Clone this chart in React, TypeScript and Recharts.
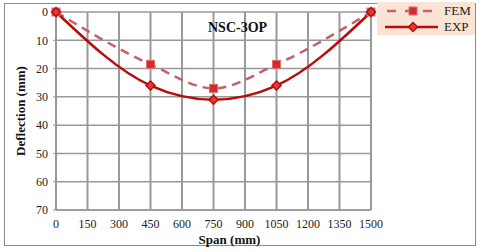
import { LineChart, Line, XAxis, YAxis, CartesianGrid, ReferenceLine } from 'recharts';

// span positions (mm)
const spans = [0, 450, 750, 1050, 1500];
// deflections (mm)
const femValues = [0, 18.5, 27, 18.5, 0];
const expValues = [0, 26, 31, 26, 0];

const xTicks = [0, 150, 300, 450, 600, 750, 900, 1050, 1200, 1350, 1500];
const yTicks = [0, 10, 20, 30, 40, 50, 60, 70];

const data = spans.map((s, i) => ({ span: s, fem: femValues[i], exp: expValues[i] }));

const FEM_COLOR = '#c4606a';
const FEM_MARK = '#d42a2a';
const EXP_COLOR = '#b80c0c';
const GRID = '#999';
const FONT = '"Liberation Serif", "DejaVu Serif", serif';

const Square = (props: any) => {
  const { cx, cy } = props;
  if (cx == null || cy == null) return null;
  return <rect x={cx - 4} y={cy - 4} width={8} height={8} fill={FEM_MARK} stroke="#e07070" strokeWidth={1} />;
};

const Diamond = (props: any) => {
  const { cx, cy } = props;
  if (cx == null || cy == null) return null;
  return (
    <path
      d={`M${cx},${cy - 4.5}L${cx + 4.5},${cy}L${cx},${cy + 4.5}L${cx - 4.5},${cy}Z`}
      fill="#e03a3a"
      stroke={EXP_COLOR}
      strokeWidth={1.5}
    />
  );
};

const LegendBox = () => (
  <div
    style={{
      position: 'absolute',
      left: 377,
      top: 2,
      background: '#fbe3d6',
      width: 98,
      height: 33,
      fontFamily: FONT,
      fontSize: 13,
      color: '#222',
    }}
  >
    <div style={{ display: 'flex', alignItems: 'center', height: 16, marginTop: 1 }}>
      <svg width={64} height={14}>
        <line x1={8} y1={7} x2={61} y2={7} stroke={FEM_COLOR} strokeWidth={2.5} strokeDasharray="9 9" strokeDashoffset={-2} />
        <rect x={32} y={3} width={8} height={8} fill={FEM_MARK} stroke="#e07070" />
      </svg>
      <span style={{ marginLeft: 3 }}>FEM</span>
    </div>
    <div style={{ display: 'flex', alignItems: 'center', height: 16 }}>
      <svg width={64} height={14}>
        <line x1={8} y1={7} x2={61} y2={7} stroke={EXP_COLOR} strokeWidth={2.5} />
        <path d="M36,2.5L40.5,7L36,11.5L31.5,7Z" fill="#e03a3a" stroke={EXP_COLOR} strokeWidth={1.5} />
      </svg>
      <span style={{ marginLeft: 3 }}>EXP</span>
    </div>
  </div>
);

export default function App() {
  return (
    <div style={{ position: 'absolute', left: 0, top: 0, width: 480, height: 252, background: '#fff' }}>
      <div
        style={{
          position: 'absolute',
          left: 4,
          top: 3,
          width: 470,
          height: 241,
          border: '1.5px solid #8a8a8a',
        }}
      />
      <div style={{ position: 'absolute', left: 0, top: 0 }}>
        <LineChart width={480} height={252} data={data} margin={{ top: 12, right: 109, bottom: 8, left: 0 }}>
          <CartesianGrid stroke={GRID} strokeWidth={1.5} vertical={false} />
          <XAxis
            dataKey="span"
            type="number"
            domain={[0, 1500]}
            ticks={xTicks}
            tickLine={false}
            axisLine={{ stroke: GRID, strokeWidth: 1.5 }}
            tick={{ fill: '#222', fontSize: 12, fontFamily: FONT }}
            tickMargin={3}
            height={34}
            interval={0}
            label={{
              value: 'Span (mm)',
              position: 'insideBottom',
              offset: 0,
              dx: 16,
              style: { fontFamily: FONT, fontWeight: 'bold', fontSize: 13, fill: '#111' },
            }}
          />
          <YAxis
            type="number"
            reversed
            domain={[0, 70]}
            ticks={yTicks}
            tickLine={{ stroke: GRID }}
            tickSize={3}
            axisLine={{ stroke: GRID, strokeWidth: 1.5 }}
            tick={{ fill: '#222', fontSize: 12, fontFamily: FONT }}
            tickMargin={5}
            width={56}
            interval={0}
            label={{
              value: 'Deflection (mm)',
              angle: -90,
              position: 'insideLeft',
              offset: 20,
              style: { textAnchor: 'middle', fontFamily: FONT, fontWeight: 'bold', fontSize: 13, fill: '#111' },
            }}
          />
          {xTicks.map((t) => (
            <ReferenceLine key={t} x={t} stroke={GRID} strokeWidth={2} />
          ))}
          <Line
            type="monotone"
            dataKey="fem"
            name="FEM"
            stroke={FEM_COLOR}
            strokeWidth={2.5}
            strokeDasharray="9 6"
            dot={<Square />}
            isAnimationActive={false}
          />
          <Line
            type="monotone"
            dataKey="exp"
            name="EXP"
            stroke={EXP_COLOR}
            strokeWidth={2.5}
            dot={<Diamond />}
            isAnimationActive={false}
          />
        </LineChart>
      </div>
      <div
        style={{
          position: 'absolute',
          left: 208,
          top: 20,
          fontFamily: FONT,
          fontWeight: 'bold',
          fontSize: 14,
          color: '#111',
        }}
      >
        NSC-3OP
      </div>
      <LegendBox />
    </div>
  );
}
